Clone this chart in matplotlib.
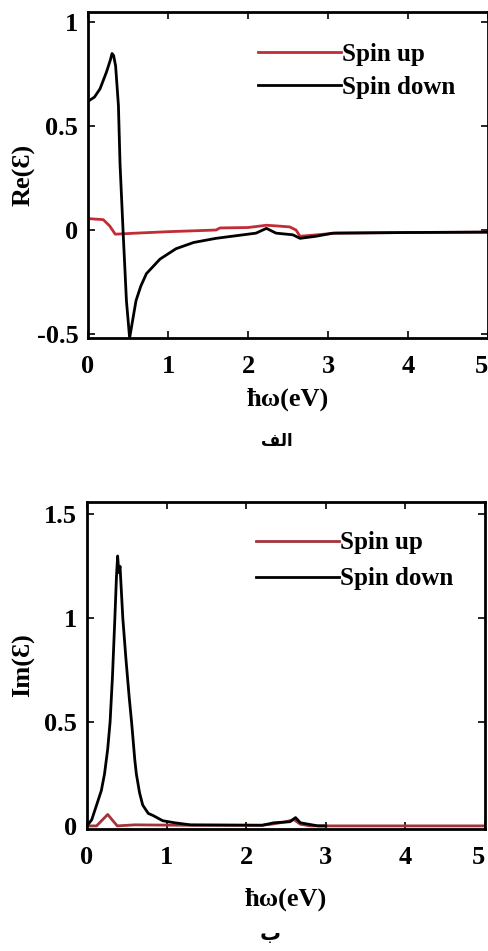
import matplotlib.pyplot as plt

# data
# (a) real part
re_up_x = [0, 0.19, 0.27, 0.34, 0.45, 0.6, 1.0, 1.6, 1.65, 2.0, 2.23, 2.35, 2.52, 2.6, 2.65, 2.8, 3.1, 4.0, 5.0]
re_up_y = [0.055, 0.05, 0.02, -0.02, -0.018, -0.015, -0.008, 0.0, 0.01, 0.012, 0.023, 0.02, 0.015, 0.0, -0.03, -0.025,
           -0.015, -0.012, -0.01]
re_dn_x = [0, 0.08, 0.15, 0.23, 0.28, 0.30, 0.32, 0.345, 0.38, 0.40, 0.44, 0.48, 0.52, 0.56, 0.6, 0.66, 0.73, 0.9,
           1.1, 1.32, 1.6, 1.9, 2.1, 2.23, 2.35, 2.56, 2.65, 2.85, 3.06, 4.0, 5.0]
re_dn_y = [0.62, 0.64, 0.68, 0.76, 0.82, 0.85, 0.84, 0.79, 0.60, 0.32, -0.02, -0.34, -0.52, -0.43, -0.34, -0.27,
           -0.21, -0.14, -0.09, -0.06, -0.04, -0.025, -0.015, 0.008, -0.015, -0.023, -0.04, -0.03, -0.015,
           -0.012, -0.01]

# (b) imaginary part
im_up_x = [0, 0.12, 0.26, 0.38, 0.6, 1.2, 2.2, 2.35, 2.5, 2.6, 2.68, 2.8, 5.0]
im_up_y = [0.0, 0.0, 0.055, 0.0, 0.005, 0.003, 0.003, 0.01, 0.02, 0.03, 0.008, 0.0, 0.0]
im_dn_x = [0, 0.06, 0.12, 0.18, 0.22, 0.26, 0.29, 0.32, 0.35, 0.37, 0.385, 0.40, 0.415, 0.45, 0.49, 0.53, 0.56,
           0.6, 0.62, 0.66, 0.70, 0.77, 0.83, 0.95, 1.1, 1.3, 2.2, 2.35, 2.55, 2.62, 2.68, 2.9, 3.0]
im_dn_y = [0.0, 0.03, 0.1, 0.17, 0.25, 0.37, 0.5, 0.72, 1.0, 1.2, 1.3, 1.22, 1.25, 1.0, 0.8, 0.62, 0.5,
           0.32, 0.25, 0.16, 0.1, 0.06, 0.05, 0.025, 0.015, 0.005, 0.003, 0.015, 0.02, 0.04, 0.015, 0.0, 0.0]

fnt = ['Liberation Serif', 'DejaVu Serif']

fig = plt.figure(figsize=(4.89, 9.51), dpi=100)


def style(ax, yticks, ylabels, ylabel, leg_top, leg_space, xlab_y):
    ax.set_xlim(0, 5)
    ax.set_xticks([0, 1, 2, 3, 4, 5])
    ax.set_xticklabels(['0', '1', '2', '3', '4', '5'])
    ax.set_yticks(yticks)
    ax.set_yticklabels(ylabels)
    ax.tick_params(direction='in', top=True, right=True, length=5, width=1.2, labelsize=19)
    ax.tick_params(axis='x', pad=12)
    ax.tick_params(axis='y', pad=7)
    for lab in ax.get_xticklabels() + ax.get_yticklabels():
        lab.set_family(fnt)
        lab.set_fontweight('bold')
    ax.get_xticklabels()[-1].set_ha('right')
    for s in ax.spines.values():
        s.set_linewidth(2)
    ax.set_xlabel('ħω(eV)', family=fnt, fontweight='bold', fontsize=19)
    ax.xaxis.set_label_coords(0.5, xlab_y)
    ax.set_ylabel(ylabel, family=fnt, fontweight='bold', fontsize=19)
    ax.yaxis.set_label_coords(-0.13, 0.5)
    ax.legend(loc='upper left', bbox_to_anchor=(0.425, leg_top), frameon=False, handlelength=3.3,
              handletextpad=0.05, borderpad=0, borderaxespad=0, labelspacing=leg_space,
              prop={'family': fnt, 'weight': 'bold', 'size': 18})


ax1 = fig.add_axes([0.18, 1 - 338 / 951, 400 / 489, 326 / 951])
ax1.plot(re_up_x, re_up_y, color='#c22c36', lw=2, label='Spin up')
ax1.plot(re_dn_x, re_dn_y, color='black', lw=2, label='Spin down')
ax1.set_ylim(-0.52, 1.05)
style(ax1, [-0.5, 0, 0.5, 1], ['-0.5', '0', '0.5', '1'], 'Re(Ɛ)', 0.905, 0.4, -0.153)

ax2 = fig.add_axes([87 / 489, 1 - 829 / 951, 398 / 489, 327 / 951])
ax2.plot(im_up_x, im_up_y, color='#a2353a', lw=2, label='Spin up')
ax2.plot(im_dn_x, im_dn_y, color='black', lw=2, label='Spin down')
ax2.set_ylim(-0.015, 1.56)
style(ax2, [0, 0.5, 1, 1.5], ['0', '0.5', '1', '1.5'], 'Im(Ɛ)', 0.91, 0.52, -0.18)

# Arabic captions (presentation forms, visual order)
fig.text(277 / 489, 1 - 446 / 951, '\ufed2\ufedf\ufe8d', family='DejaVu Sans', fontweight='bold',
         fontsize=12, ha='center', va='baseline')
fig.text(270 / 489, 1 - 940 / 951, 'ب', family='DejaVu Sans', fontweight='bold',
         fontsize=15, ha='center', va='baseline')

fig.savefig('out.png', dpi=100)
